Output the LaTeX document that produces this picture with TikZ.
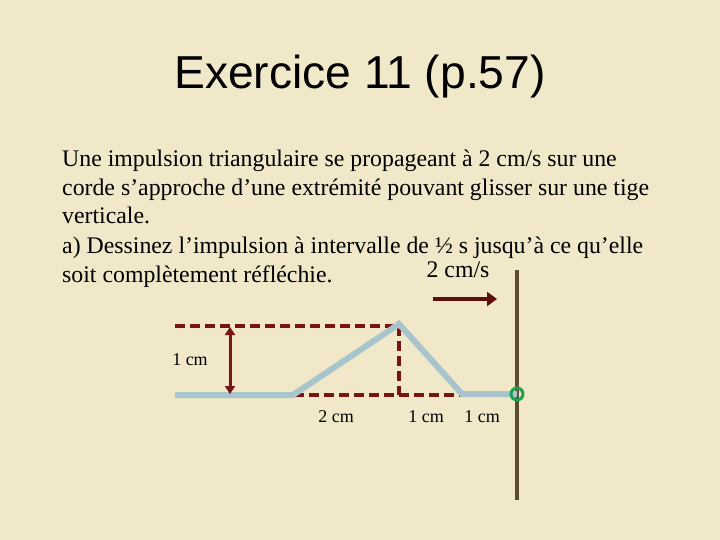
\documentclass[tikz,border=0pt]{standalone}
\usepackage{fontspec}
\setmainfont{Liberation Serif}
\newfontfamily\titlefont{Liberation Sans}
\usetikzlibrary{arrows.meta}
\definecolor{paper}{RGB}{240,232,200}
\definecolor{dred}{RGB}{120,20,20}
\definecolor{arrc}{RGB}{95,15,15}
\definecolor{stringc}{RGB}{168,196,204}
\definecolor{rodc}{RGB}{92,74,50}
\definecolor{ringc}{RGB}{30,160,80}
\tikzset{
  body/.style={anchor=base west,inner sep=0pt,font=\fontsize{23.8}{28}\selectfont},
  lab/.style={anchor=base,inner sep=0pt,font=\fontsize{18}{22}\selectfont},
  strg/.style={draw=stringc,line width=6pt,line join=miter},
  dsh/.style={draw=dred,line width=3.2pt,dash pattern=on 10pt off 5pt},
}
\begin{document}
\begin{tikzpicture}[x=1pt,y=-1pt]
\fill[paper] (0,0) rectangle (720,540);
\useasboundingbox (0,0) rectangle (720,540);
\node[inner sep=0pt,font=\titlefont\fontsize{46.2}{50}\selectfont] (title) at (360,77) {Exercice 11 (p.57)};
\node[body] (l1) at (62,167) {Une impulsion triangulaire se propageant à 2 cm/s sur une};
\node[body] (l2) at (62,196) {corde s’approche d’une extrémité pouvant glisser sur une tige};
\node[body] (l3) at (62,224) {verticale.};
\node[body] (l4) at (62,253) {a) Dessinez l’impulsion à intervalle de ½ s jusqu’à ce qu’elle};
\node[body] (l5) at (62,282) {soit complètement réfléchie.};
\node[lab,font=\fontsize{23.8}{28}\selectfont] (v) at (458,277) {2 cm/s};
\coordinate (a1) at (433,299);
\coordinate (a2) at (497,299);
\draw[arrc,line width=4.5pt,-{Triangle[length=10pt,width=14pt]}] (a1) -- (a2);
% rod
\coordinate (r1) at (517,270);
\coordinate (r2) at (517,500);
\draw[rodc,line width=3.5pt] (r1) -- (r2);
% dashed guides
\coordinate (d0) at (175,326);
\coordinate (pk) at (399,326);
\coordinate (pb) at (399,395);
\coordinate (b1) at (294,395);
\coordinate (b2) at (462,395);
\draw[dsh] (d0) -- (pk);
\draw[dsh] (pk) -- (pb);
\draw[dsh] (b1) -- (b2);
% string
\coordinate (s0) at (175,395);
\coordinate (s1) at (293,395);
\coordinate (s2) at (399,324);
\coordinate (s3) at (462,394);
\coordinate (s4) at (517,394);
\draw[strg] (s0) -- (s1) -- (s2) -- (s3) -- (s4);
\node[draw=ringc,line width=3pt,circle,minimum size=12pt,inner sep=0pt] (ring) at (517,394) {};
% double arrow
\coordinate (h1) at (230,327);
\coordinate (h2) at (230,394);
\draw[dred,line width=3pt,{Triangle[length=8pt,width=10pt]}-{Triangle[length=8pt,width=10pt]}] (h1) -- (h2);
\node[lab] (c1) at (190,365) {1 cm};
\node[lab] (c2) at (336,422) {2 cm};
\node[lab] (c3) at (426,422) {1 cm};
\node[lab] (c4) at (482,422) {1 cm};
\end{tikzpicture}
\end{document}
